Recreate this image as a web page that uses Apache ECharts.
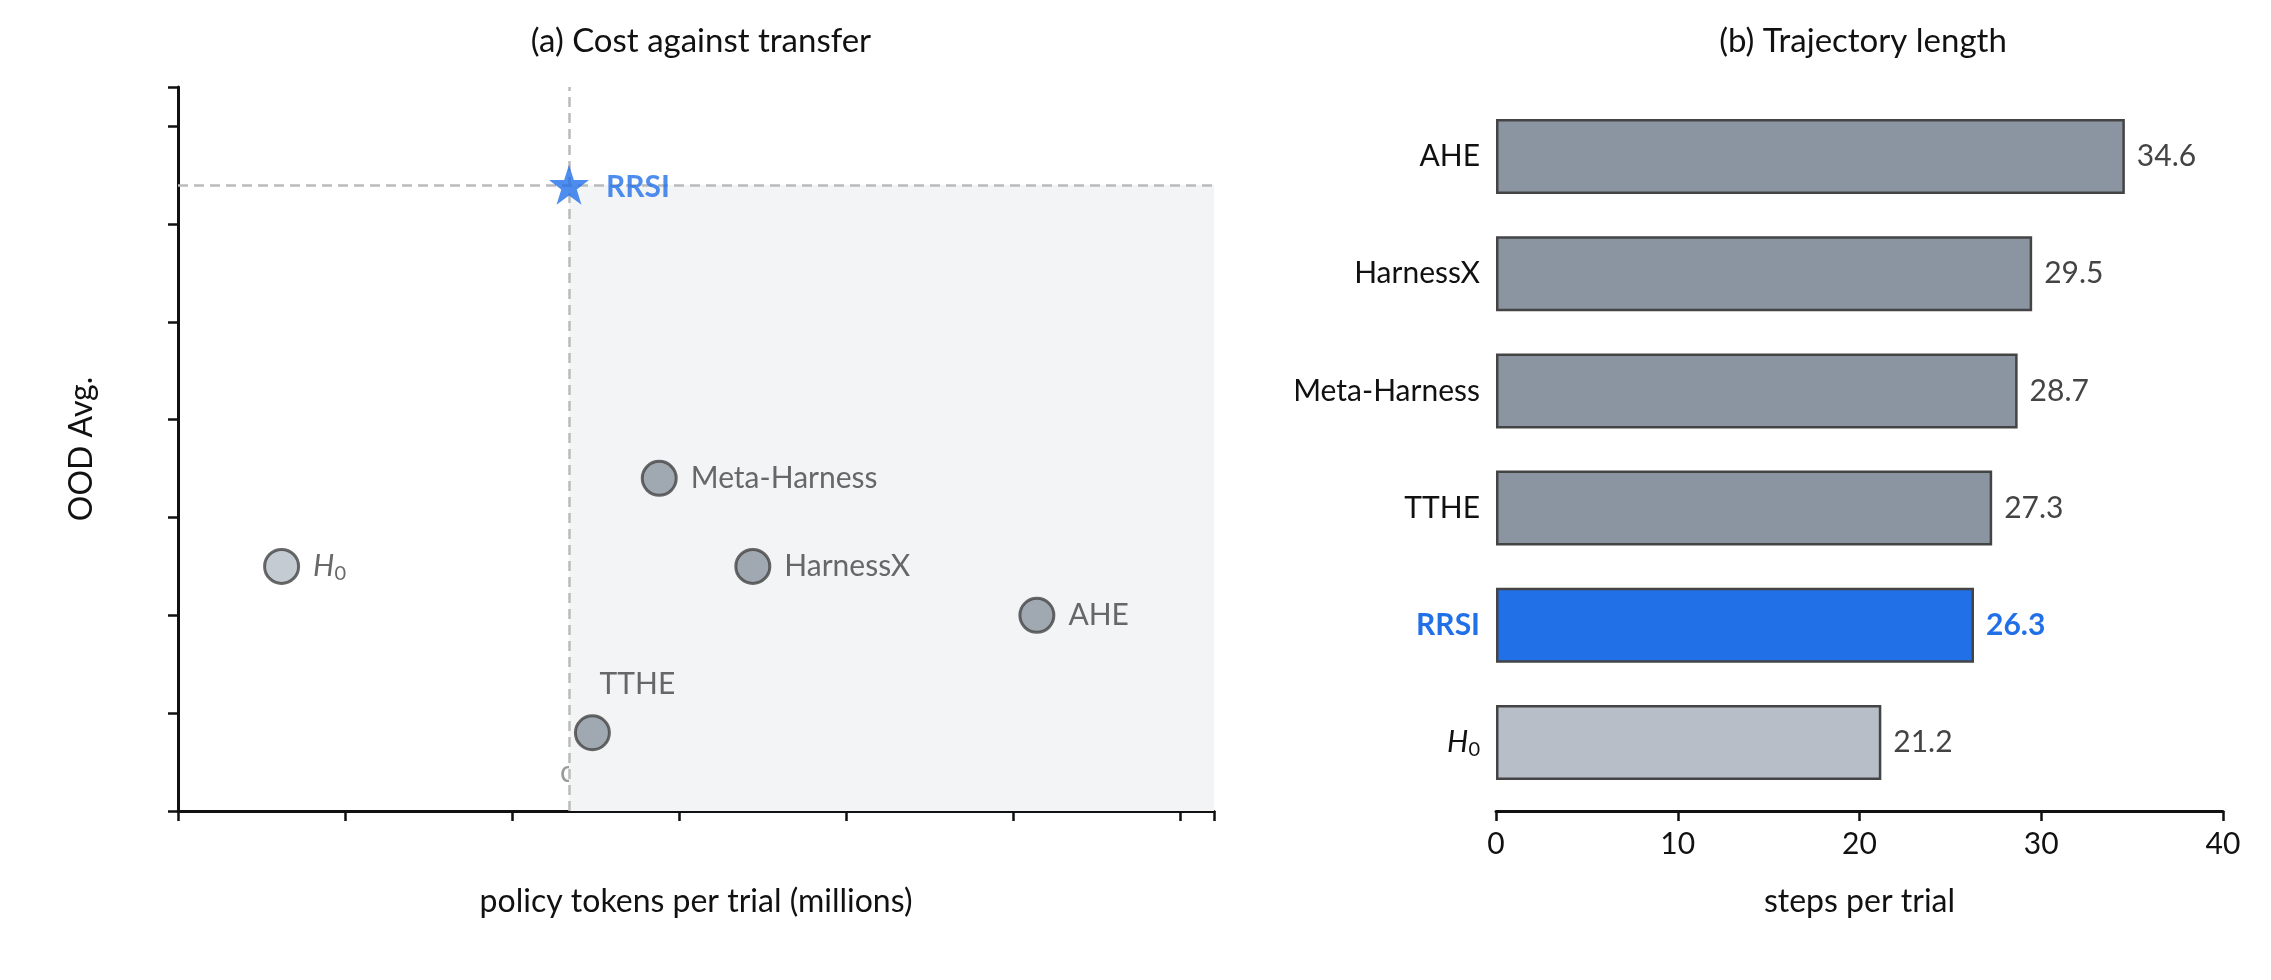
<!DOCTYPE html>
<html><head><meta charset="utf-8">
<script src="https://cdn.jsdelivr.net/npm/echarts@6/dist/echarts.min.js"></script>
<style>html,body{margin:0;background:#fff}#c{width:2271px;height:980px}</style>
</head><body><div id="c"></div>
<script>
const methods = ['H0','Meta-Harness','HarnessX','AHE','TTHE'];
const tokens = [1.56, 2.69, 2.97, 3.82, 2.49];
const ood = [39.7, 40.6, 39.7, 39.2, 38.0];
const rrsiTokens = 2.42, rrsiOod = 43.6;
const barCats = ['H0','RRSI','TTHE','Meta-Harness','HarnessX','AHE'];
const barVals = [21.2, 26.3, 27.3, 28.7, 29.5, 34.6];

const F = 'Lato';
const dark = '#8b95a1', light = '#b7bec7', edge = '#444', blue = '#2270e8';
const rich = {i:{fontStyle:'italic',fontFamily:F,fontSize:30,color:'#444'},s:{fontSize:20,fontFamily:F,color:'#444',verticalAlign:'bottom',padding:[14,0,0,0]}};
const richB = {i:{fontStyle:'italic',fontFamily:F,fontSize:30,color:'#111'},s:{fontSize:20,fontFamily:F,color:'#111',padding:[14,0,0,0]}};

const scatterData = methods.map((m,i)=>({
  value:[tokens[i],ood[i]], name:m,
  itemStyle:{color: m==='H0'?light:dark},
  label:{position: m==='TTHE'?'top':'right', offset: m==='TTHE'?[45,-10]:[8,0]}
}));

const chart = echarts.init(document.getElementById('c'));
chart.setOption({
  animation:false,
  title:[
    {text:'(a) Cost against transfer',left:696,top:20,textAlign:'center',textStyle:{fontFamily:F,fontSize:33,fontWeight:'normal',color:'#111'}},
    {text:'(b) Trajectory length',left:1858,top:20,textAlign:'center',textStyle:{fontFamily:F,fontSize:33,fontWeight:'normal',color:'#111'}}
  ],
  grid:[
    {left:178,right:1057,top:87,bottom:169},
    {left:1496,right:48,top:98,bottom:179}
  ],
  xAxis:[
    {gridIndex:0,type:'value',min:1.25,max:4.35,interval:0.5,
     axisLabel:{fontFamily:F,fontSize:30,color:'#111',margin:18,formatter:v=>{const r=Math.round(v*10)/10; return (r*2)%1===0&&r>=1.5? r.toFixed(1):'';}},
     customValues:undefined,
     axisLine:{lineStyle:{color:'#111',width:3}},axisTick:{show:true,length:10,lineStyle:{color:'#111',width:2.5}},splitLine:{show:false},
     name:'policy tokens per trial (millions)',nameLocation:'middle',nameGap:75,nameTextStyle:{fontFamily:F,fontSize:32,color:'#111'}},
    {gridIndex:1,type:'value',min:0,max:40,interval:10,offset:10,
     axisLabel:{fontFamily:F,fontSize:30,color:'#111',margin:18},
     axisLine:{show:true,lineStyle:{color:'#111',width:3}},axisTick:{show:true,length:10,lineStyle:{color:'#111',width:2.5}},splitLine:{show:false},
     name:'steps per trial',nameLocation:'middle',nameGap:75,nameTextStyle:{fontFamily:F,fontSize:32,color:'#111'}}
  ],
  yAxis:[
    {gridIndex:0,type:'value',min:37.2,max:44.6,interval:1,
     axisLabel:{fontFamily:F,fontSize:30,color:'#111',margin:16,formatter:v=>Number.isInteger(Math.round(v*1000)/1000)?String(Math.round(v)):''},
     axisLine:{show:true,lineStyle:{color:'#111',width:3}},axisTick:{show:true,length:10,lineStyle:{color:'#111',width:2.5}},splitLine:{show:false},
     name:'OOD Avg.',nameLocation:'middle',nameGap:80,nameTextStyle:{fontFamily:F,fontSize:32,color:'#111'}},
    {gridIndex:1,type:'category',data:barCats,
     axisLabel:{fontFamily:F,fontSize:30,color:'#111',margin:16,
       formatter:v=>v==='H0'?'{i|H}{s|0}':(v==='RRSI'?'{b|RRSI}':v),
       rich:Object.assign({b:{color:blue,fontWeight:'bold',fontFamily:F,fontSize:30}},richB)},
     axisLine:{show:false},axisTick:{show:false}}
  ],
  series:[
    {type:'scatter',xAxisIndex:0,yAxisIndex:0,symbolSize:34,data:scatterData,z:5,
     itemStyle:{borderColor:edge,borderWidth:3},
     label:{show:true,fontFamily:F,fontSize:30,color:'#444',
       formatter:p=>p.name==='H0'?'{i|H}{s|0}':p.name, rich:rich},
     markArea:{silent:true,itemStyle:{color:'#f3f4f6'},data:[[{coord:[rrsiTokens,37.2]},{coord:[4.35,rrsiOod]}]]},
     markLine:{silent:true,symbol:'none',label:{show:false},lineStyle:{color:'#bbb',type:[10,6],width:2.5},
       data:[{xAxis:rrsiTokens},{yAxis:rrsiOod}]}
    },
    {type:'scatter',xAxisIndex:0,yAxisIndex:0,symbol:'path://M50,0 L61.8,35.5 L99,35.5 L69,57.5 L80.5,93 L50,71 L19.5,93 L31,57.5 L1,35.5 L38.2,35.5 Z',symbolSize:40,z:6,
     data:[{value:[rrsiTokens,rrsiOod],name:'RRSI'}],itemStyle:{color:blue},
     label:{show:true,position:'right',offset:[12,2],fontFamily:F,fontSize:30,fontWeight:'bold',color:blue,formatter:'{b}'}},
    {type:'bar',xAxisIndex:1,yAxisIndex:1,barWidth:'64%',
     data:barCats.map((c,i)=>({value:barVals[i],itemStyle:{color:c==='RRSI'?blue:(c==='H0'?light:dark)},
       label:c==='RRSI'?{color:blue,fontWeight:'bold'}:{}})),
     itemStyle:{borderColor:edge,borderWidth:2.5},
     label:{show:true,position:'right',distance:12,fontFamily:F,fontSize:30,color:'#444',formatter:p=>p.value.toFixed(1)}}
  ],
  graphic:[{type:'text',left:560,top:757,style:{text:'costlier and worse out of distribution',fontFamily:F,fontSize:30,fill:'#999'}}]
});
</script></body></html>
